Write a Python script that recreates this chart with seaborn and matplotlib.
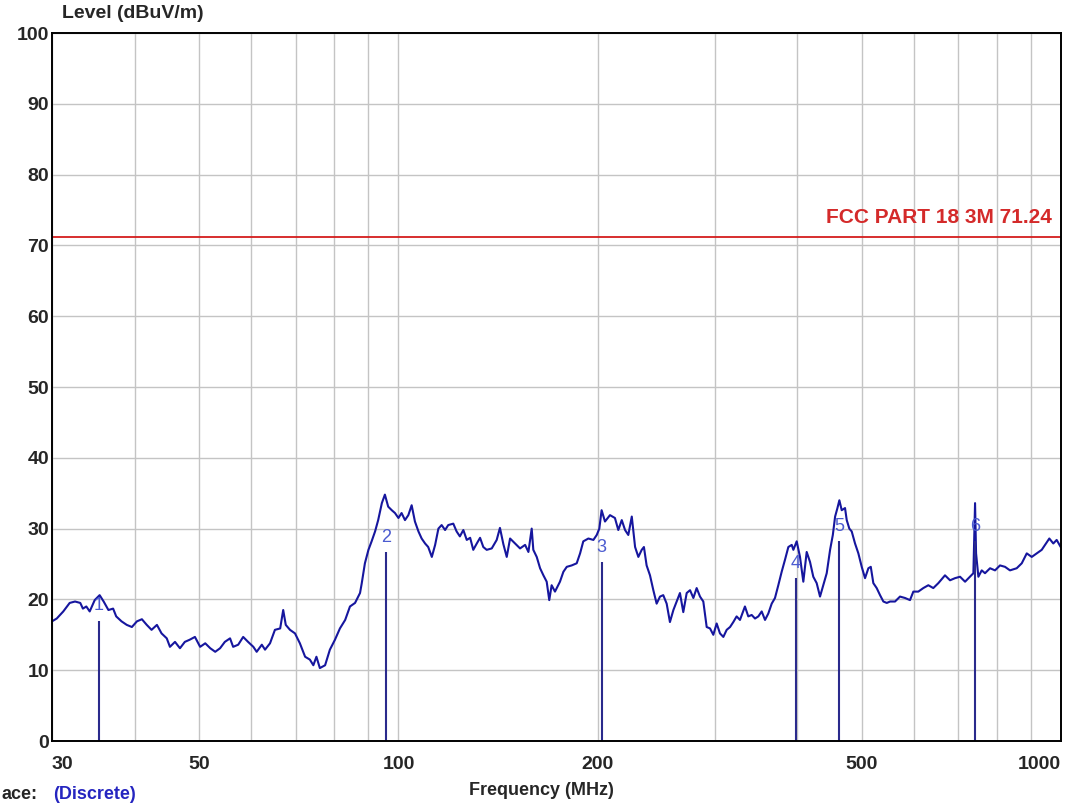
import matplotlib.pyplot as plt
import seaborn as sns
from matplotlib.ticker import FixedLocator, FixedFormatter, NullFormatter

# sweep (MHz, dBuV/m)
freq_mhz = [
    30.0, 30.5, 31.2, 31.9, 32.5, 33.1, 33.4, 33.8, 34.2, 34.8, 35.4, 35.9, 36.5, 37.1, 37.5,
    38.2, 38.9, 39.6, 40.3, 41.0, 41.7, 42.4, 43.2, 43.9, 44.7, 45.2, 46.0, 46.8, 47.6, 48.4,
    49.3, 50.2, 51.1, 52.0, 52.9, 53.8, 54.7, 55.7, 56.3, 57.3, 58.3, 59.3, 60.4, 61.1, 62.2,
    62.9, 64.0, 65.1, 66.3, 67.0, 67.6, 68.6, 69.8, 71.0, 72.3, 73.5, 74.4, 75.2, 76.1, 77.5,
    78.8, 80.2, 81.6, 83.1, 84.5, 86.0, 87.5, 88.0, 89.0, 90.1, 91.1, 92.2, 93.2, 94.4, 95.4,
    96.5, 97.7, 98.8, 100.0, 101.1, 102.3, 103.5, 104.7, 105.9, 107.2, 108.4, 109.7, 110.9,
    112.3, 113.6, 114.9, 116.2, 117.6, 118.9, 121.0, 122.4, 123.8, 125.3, 126.8, 128.3, 129.7,
    131.3, 132.8, 134.3, 135.9, 138.3, 140.7, 142.3, 144.0, 145.7, 147.4, 150.0, 152.6, 155.3,
    157.1, 158.9, 159.8, 161.7, 163.6, 165.5, 167.4, 168.9, 170.3, 172.3, 175.3, 177.4, 179.5,
    182.6, 185.8, 188.0, 190.1, 193.5, 196.9, 199.2, 201.0, 202.6, 205.0, 208.6, 212.2, 214.7,
    217.3, 219.8, 222.3, 225.0, 227.6, 230.2, 232.9, 234.7, 236.9, 239.7, 242.5, 245.3, 248.2,
    251.0, 254.0, 256.9, 260.0, 263.0, 266.0, 269.1, 272.3, 275.5, 278.7, 281.9, 285.2, 288.5,
    291.9, 295.3, 298.7, 302.2, 305.7, 309.3, 312.9, 316.6, 320.2, 323.9, 327.7, 333.4, 337.3,
    341.3, 345.3, 349.3, 353.4, 357.5, 361.6, 365.9, 370.1, 374.4, 378.8, 383.2, 387.7, 392.3,
    394.5, 399.1, 403.7, 408.4, 413.2, 418.0, 422.8, 427.8, 432.8, 437.8, 443.0, 448.2, 452.5,
    456.1, 459.8, 462.9, 466.7, 472.1, 474.9, 479.2, 483.2, 488.8, 494.5, 500.3, 506.1, 512.0,
    516.3, 520.9, 527.0, 533.2, 539.4, 545.8, 552.1, 561.7, 571.5, 581.5, 591.7, 598.6, 609.0,
    619.7, 630.6, 641.6, 653.0, 668.2, 680.0, 691.9, 704.1, 716.5, 728.9, 737.5, 741.8, 744.4,
    750.4, 759.2, 767.9, 781.5, 795.1, 809.0, 823.2, 837.5, 857.3, 872.5, 887.8, 903.3, 919.0,
    935.2, 946.0, 960.2, 973.6, 985.1, 999.0,
]
level_dbuv = [
    16.9, 17.3, 18.3, 19.5, 19.7, 19.5, 18.7, 19.0, 18.3, 19.9, 20.6, 19.7, 18.5, 18.7, 17.6,
    16.9, 16.4, 16.1, 16.9, 17.2, 16.4, 15.7, 16.4, 15.2, 14.5, 13.3, 14.0, 13.1, 14.0, 14.3,
    14.7, 13.3, 13.8, 13.1, 12.6, 13.1, 14.0, 14.5, 13.3, 13.6, 14.7, 14.0, 13.3, 12.6, 13.6,
    12.9, 13.8, 15.7, 15.9, 18.5, 16.4, 15.7, 15.2, 13.8, 11.9, 11.5, 10.7, 11.9, 10.3, 10.7,
    12.9, 14.3, 15.9, 17.1, 19.0, 19.5, 20.9, 22.2, 25.1, 27.0, 28.2, 29.6, 31.2, 33.6, 34.8,
    33.1, 32.6, 32.2, 31.5, 32.2, 31.2, 31.9, 33.3, 31.0, 29.6, 28.6, 27.9, 27.4,
    26.0, 27.7, 30.0, 30.5, 29.8, 30.5, 30.7, 29.6, 28.9, 29.8, 28.4, 28.7, 27.0,
    27.9, 28.7, 27.4, 27.0, 27.2, 28.4, 30.1, 27.8, 26.0, 28.6, 27.9, 27.2, 27.7,
    26.7, 30.0, 27.0, 26.0, 24.4, 23.4, 22.5, 19.9, 22.0, 21.1, 22.5, 23.9, 24.6,
    24.8, 25.1, 26.5, 28.2, 28.6, 28.4, 29.1, 30.0, 32.6, 31.0, 31.9, 31.5, 29.8,
    31.2, 29.8, 29.1, 31.7, 27.4, 26.0, 27.0, 27.4, 24.8, 23.4, 21.3, 19.4, 20.4,
    20.6, 19.4, 16.8, 18.5, 19.7, 20.9, 18.2, 20.9, 21.3, 20.2, 21.6, 20.4, 19.7,
    16.1, 15.9, 15.0, 16.6, 15.2, 14.7, 15.7, 16.1, 16.8, 17.6, 17.1, 19.0, 17.6,
    17.8, 17.3, 17.6, 18.3, 17.1, 18.0, 19.4, 20.2, 22.0, 23.9, 25.6, 27.4, 27.7,
    27.0, 28.2, 26.0, 22.5, 26.7, 25.3, 23.2, 22.3, 20.4, 22.0, 23.7, 27.0, 29.1,
    31.7, 32.9, 34.0, 32.6, 32.9, 31.2, 30.0, 29.6, 27.9, 26.5, 24.6, 23.0, 24.4,
    24.6, 22.3, 21.6, 20.6, 19.7, 19.5, 19.7, 19.7, 20.4, 20.2, 19.9, 21.1, 21.1,
    21.6, 22.0, 21.6, 22.3, 23.4, 22.7, 23.0, 23.2, 22.5, 23.2, 23.7, 33.6, 26.5,
    23.2, 24.1, 23.7, 24.4, 24.1, 24.8, 24.6, 24.1, 24.4, 25.1, 26.5, 26.0, 26.5,
    27.0, 27.7, 28.6, 27.9, 28.4, 27.4,
]

marker_names = ["1", "2", "3", "4", "5", "6"]
marker_freq = [35.3, 95.9, 202.6, 398.0, 462.9, 741.8]
marker_level = [17.0, 26.7, 25.3, 23.0, 28.2, 28.2]

limit_level = 71.24
limit_name = "FCC PART 18 3M 71.24"

x_ticks = [30, 50, 100, 200, 500, 1000]
x_tick_labels = ["30", "50", "100", "200", "500", "1000"]
x_grid = [30, 40, 50, 60, 70, 80, 90, 100, 200, 300, 400, 500, 600, 700, 800, 900, 1000]
y_ticks = list(range(0, 101, 10))

sns.set_style("white")
plt.rcParams['font.family'] = ['Liberation Sans', 'DejaVu Sans']

fig = plt.figure(figsize=(10.86, 8.05), dpi=100)
ax = fig.add_axes([52 / 1086, 64 / 805, 1009 / 1086, 708 / 805])

sns.lineplot(x=freq_mhz, y=level_dbuv, sort=False, estimator=None,
             color='#16169e', lw=1.5, ax=ax)

ax.set_xscale('log')
ax.set_xlim(30, 1000)
ax.set_ylim(0, 100)

ax.xaxis.set_major_locator(FixedLocator(x_ticks))
ax.xaxis.set_major_formatter(FixedFormatter(x_tick_labels))
ax.xaxis.set_minor_locator(FixedLocator(x_grid))
ax.xaxis.set_minor_formatter(NullFormatter())
ax.set_yticks(y_ticks)
ax.grid(True, which='both', color='#c4c4c4', lw=1)
ax.tick_params(which='both', length=0)
ax.tick_params(axis='x', pad=11, labelsize=14)
ax.tick_params(axis='y', pad=2, labelsize=14)
for lab in ax.get_xticklabels() + ax.get_yticklabels():
    lab.set_fontweight('bold')
xl = ax.get_xticklabels()
xl[0].set_ha('left')
xl[-1].set_ha('right')

for sp in ax.spines.values():
    sp.set_color('black')
    sp.set_linewidth(1.4)

# limit line
ax.axhline(limit_level, color='#d41c1c', lw=1.3)
ax.text(969, limit_level + 1.3, limit_name, ha='right', va='bottom',
        color='#d42a2a', fontsize=15, fontweight='bold')

# markers
ax.vlines(marker_freq, 0, marker_level, color='#2a2a8c', lw=1.5)
for name, f, lv in zip(marker_names, marker_freq, marker_level):
    ax.text(f, lv + 2.1, name, ha='center', va='center', color='#4b5bd0', fontsize=13)

ax.set_xlabel("")
ax.set_ylabel("")
fig.text(62 / 1086, 1 - 13 / 805, "Level (dBuV/m)", ha='left', va='center',
         fontsize=14, fontweight='bold')
fig.text(541 / 1086, 1 - 790 / 805, "Frequency (MHz)", ha='center', va='center',
         fontsize=13, fontweight='bold')
fig.text(0.001, 2 / 805, "ace:", ha='left', va='bottom', fontsize=13, fontweight='bold')
fig.text(53 / 1086, 2 / 805, "(Discrete)", ha='left', va='bottom', fontsize=13,
         fontweight='bold', color='#2525c0')

fig.savefig('out.png', dpi=100)
